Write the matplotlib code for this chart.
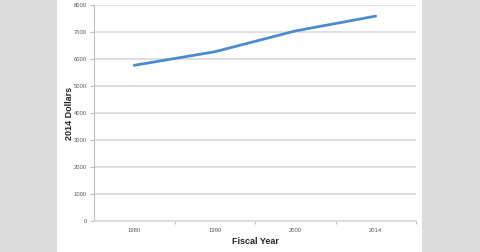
import matplotlib
matplotlib.use("Agg")
import matplotlib.pyplot as plt
from matplotlib.patches import Rectangle

years = ["1980", "1990", "2000", "2014"]
dollars = [5770, 6270, 7040, 7590]
yticks = [0, 1000, 2000, 3000, 4000, 5000, 6000, 7000, 8000]

plt.rcParams['font.family'] = ['Liberation Sans', 'DejaVu Sans']

fig = plt.figure(figsize=(4.8, 2.52), dpi=100, facecolor='#dcdcdc')
bg = fig.add_axes([57/480, 0, (422-57)/480, 1], zorder=-5)
bg.set_facecolor('white')
bg.axis('off')
bg.add_patch(Rectangle((0, 0), 1, 1, transform=bg.transAxes, facecolor='white', edgecolor='none'))

ax = fig.add_axes([94/480, 1-221.3/252, (416-94)/480, (221.3-5)/252], zorder=1)
ax.set_facecolor('none')

x = list(range(len(years)))
ax.plot(x, dollars, color='#4a8ccf', lw=2.0, solid_capstyle='round', zorder=3)

ax.set_xlim(-0.5, len(years)-0.5)
ax.set_ylim(0, 8000)
ax.set_yticks(yticks)
ax.set_yticklabels([str(v) for v in yticks])
ax.set_xticks(x)
ax.set_xticklabels(years)
ax.set_xticks([i+0.5 for i in range(len(years))], minor=True)
ax.tick_params(axis='x', which='major', length=0, labelsize=4.2, labelcolor='#595959', pad=5)
ax.tick_params(axis='x', which='minor', length=2, width=0.8, color='#bfbfbf', direction='out')
ax.tick_params(axis='y', length=3, width=0.8, color='#bfbfbf', labelsize=4.2, labelcolor='#595959', pad=2)
ax.grid(axis='y', color='#d9d9d9', lw=1.2)
ax.set_axisbelow(True)
for s in ['top', 'right']:
    ax.spines[s].set_visible(False)
ax.spines['left'].set_color('#bfbfbf')
ax.spines['left'].set_linewidth(0.8)
ax.spines['bottom'].set_color('#d9d9d9')
ax.spines['bottom'].set_linewidth(1.2)

ax.set_ylabel("2014 Dollars", fontsize=6.5, fontweight='bold', color='#262626', labelpad=0)
ax.set_xlabel("Fiscal Year", fontsize=6.5, fontweight='bold', color='#262626', labelpad=2.5)

fig.savefig("out.png", dpi=100, facecolor=fig.get_facecolor())
